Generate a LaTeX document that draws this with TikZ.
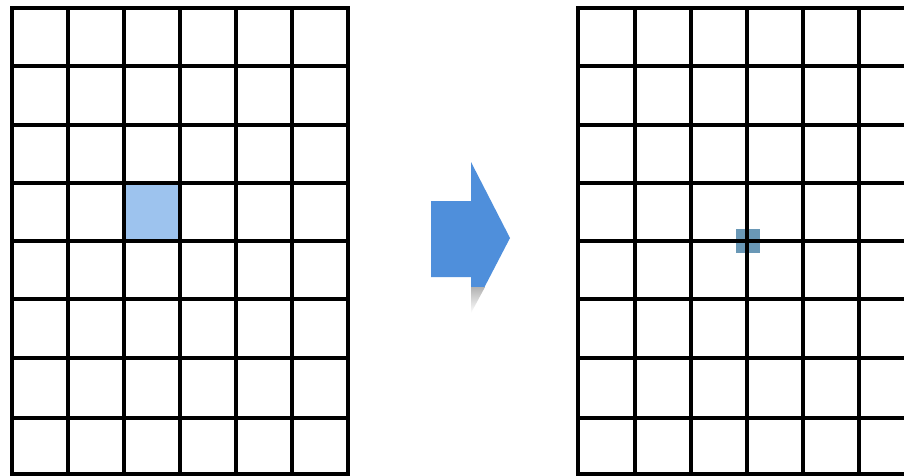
\documentclass[tikz,border=0pt]{standalone}
\usetikzlibrary{shadings}
\definecolor{cellblue}{HTML}{9DC3EE}
\definecolor{dotblue}{HTML}{6A98B6}
\definecolor{arrowblue}{HTML}{4F8FDB}
\tikzset{gridline/.style={line width=3.6pt,black,line cap=rect}}
\begin{document}
\begin{tikzpicture}[x=1pt,y=-1pt]
\useasboundingbox (0,0) rectangle (904,475);
\clip (0,0) rectangle (904,475);
\fill[white] (0,0) rectangle (904,475);
% left grid highlighted cell
\fill[cellblue] (124,183) rectangle (180,241);
% left grid
\foreach \x in {12,68,124,180,236,292,348}
  \draw[gridline] (\x,8) -- (\x,474);
\foreach \y in {8,66,125,183,241,299,358,418,474}
  \draw[gridline] (12,\y) -- (348,\y);
% arrow
\begin{scope}
\clip (400,150) rectangle (560,287);
\fill[arrowblue] (431,201) -- (471,201) -- (471,162) -- (510,238) -- (471,313) -- (471,277) -- (431,277) -- cycle;
\end{scope}
\begin{scope}
\clip (400,287) rectangle (560,320);
\shade[top color=gray!60, bottom color=white] (471,287) -- (485,287) -- (471,313) -- cycle;
\end{scope}
% right grid small square
\fill[dotblue] (736,229) rectangle (760,253);
% right grid
\foreach \x in {578,635,691,747,803,859,915}
  \draw[gridline] (\x,8) -- (\x,474);
\foreach \y in {8,66,125,183,241,299,358,418,474}
  \draw[gridline] (578,\y) -- (915,\y);
\end{tikzpicture}
\end{document}
